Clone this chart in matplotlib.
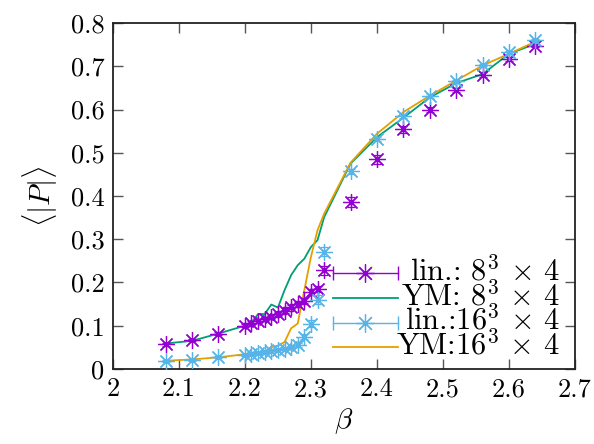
import numpy as np
import matplotlib.pyplot as plt

plt.rcParams['font.family'] = 'cmr10'
plt.rcParams['mathtext.fontset'] = 'cm'
plt.rcParams['axes.formatter.use_mathtext'] = True

# lin.: 8^3 x 4
beta_8 = [2.08, 2.12, 2.16, 2.20, 2.21, 2.22, 2.23, 2.24, 2.25, 2.26, 2.27,
          2.28, 2.29, 2.30, 2.31, 2.32, 2.36, 2.40, 2.44, 2.48, 2.52, 2.56,
          2.60, 2.64]
lin_8 = [0.057, 0.067, 0.082, 0.100, 0.107, 0.111, 0.115, 0.120, 0.127, 0.135,
         0.143, 0.150, 0.158, 0.178, 0.185, 0.228, 0.386, 0.485, 0.554, 0.600,
         0.646, 0.681, 0.717, 0.748]
lin_8_err = [0.003, 0.003, 0.003, 0.004, 0.004, 0.004, 0.004, 0.005, 0.005, 0.005,
             0.005, 0.006, 0.006, 0.008, 0.008, 0.010, 0.012, 0.010, 0.008, 0.006,
             0.005, 0.005, 0.004, 0.004]

# YM: 8^3 x 4
ym_8 = [0.059, 0.065, 0.082, 0.100, 0.108, 0.127, 0.127, 0.149, 0.142, 0.182,
        0.217, 0.240, 0.255, 0.282, 0.298, 0.351, 0.475, 0.536, 0.581, 0.628,
        0.661, 0.682, 0.729, 0.752]

# lin.: 16^3 x 4
beta_16 = beta_8
lin_16 = [0.018, 0.020, 0.028, 0.033, 0.035, 0.037, 0.039, 0.041, 0.043, 0.046,
          0.050, 0.055, 0.075, 0.105, 0.160, 0.271, 0.457, 0.532, 0.585, 0.631,
          0.665, 0.703, 0.732, 0.761]
lin_16_err = [0.002, 0.002, 0.002, 0.002, 0.002, 0.002, 0.002, 0.003, 0.003, 0.003,
              0.003, 0.004, 0.006, 0.008, 0.010, 0.010, 0.006, 0.005, 0.004, 0.004,
              0.003, 0.003, 0.003, 0.003]

# YM: 16^3 x 4
ym_16 = [0.019, 0.022, 0.027, 0.034, 0.036, 0.039, 0.041, 0.050, 0.054, 0.062,
         0.094, 0.105, 0.182, 0.259, 0.321, 0.359, 0.477, 0.544, 0.594, 0.632,
         0.667, 0.702, 0.729, 0.757]

labels = [r'lin.: $8^3\,\times\,4$', r'YM: $8^3\,\times\,4$',
          r'lin.:$16^3\,\times\,4$', r'YM:$16^3\,\times\,4$']

purple = '#9400d3'
green = '#009e73'
blue = '#56b4e9'
orange = '#e69f00'
star = (8, 2, 0)

fig = plt.figure(figsize=(5.94, 4.44), dpi=100)
ax = fig.add_axes([0.190, 0.169, 0.778, 0.779])

ax.errorbar(beta_8, lin_8, yerr=lin_8_err, fmt='none', ecolor=purple,
            elinewidth=0.9, capsize=3, capthick=0.9, zorder=3)
ax.plot(beta_8, lin_8, ls='none', marker=star, ms=12, mew=0.9,
        color=purple, zorder=3)
ax.plot(beta_8, ym_8, color=green, lw=1.3, zorder=2)
ax.errorbar(beta_16, lin_16, yerr=lin_16_err, fmt='none', ecolor=blue,
            elinewidth=0.9, capsize=3, capthick=0.9, zorder=3)
ax.plot(beta_16, lin_16, ls='none', marker=star, ms=12, mew=0.9,
        color=blue, zorder=3)
ax.plot(beta_16, ym_16, color=orange, lw=1.3, zorder=2)

ax.set_xlim(2, 2.7)
ax.set_ylim(0, 0.8)
ax.set_xticks(np.arange(2, 2.71, 0.1))
ax.set_yticks(np.arange(0, 0.81, 0.1))
ax.set_xticklabels(['2', '2.1', '2.2', '2.3', '2.4', '2.5', '2.6', '2.7'])
ax.set_yticklabels(['0', '0.1', '0.2', '0.3', '0.4', '0.5', '0.6', '0.7', '0.8'])
ax.tick_params(direction='in', top=True, right=True, length=7, width=1,
               labelsize=19, pad=6, color='#555555')
for s in ax.spines.values():
    s.set_linewidth(1.3)
    s.set_color('#222222')

ax.set_xlabel(r'$\beta$', fontsize=21, labelpad=4)
ax.set_ylabel(r'$\langle|P|\rangle$', fontsize=21, labelpad=8)

# gnuplot-like key: sample on the left, right-aligned text
key_rows = [0.2766, 0.2043, 0.1338, 0.0627]
x0, x1, xt = 0.476, 0.617, 0.9675
for i, (lab, col, pts) in enumerate(zip(labels, [purple, green, blue, orange],
                                        [True, False, True, False])):
    yk = key_rows[i]
    if pts:
        ax.plot([x0, x1], [yk, yk], color=col, lw=1.0, marker='|', ms=10,
                mew=1.0, transform=ax.transAxes, clip_on=False)
        ax.plot([(x0 + x1) / 2], [yk], color=col, marker=star, ms=13, mew=0.9,
                transform=ax.transAxes, clip_on=False)
    else:
        ax.plot([x0, x1], [yk, yk], color=col, lw=1.3,
                transform=ax.transAxes, clip_on=False)
    ax.text(xt, yk - 0.0195, lab, transform=ax.transAxes, ha='right',
            va='baseline', fontsize=22)

fig.savefig('out.png', dpi=100)
